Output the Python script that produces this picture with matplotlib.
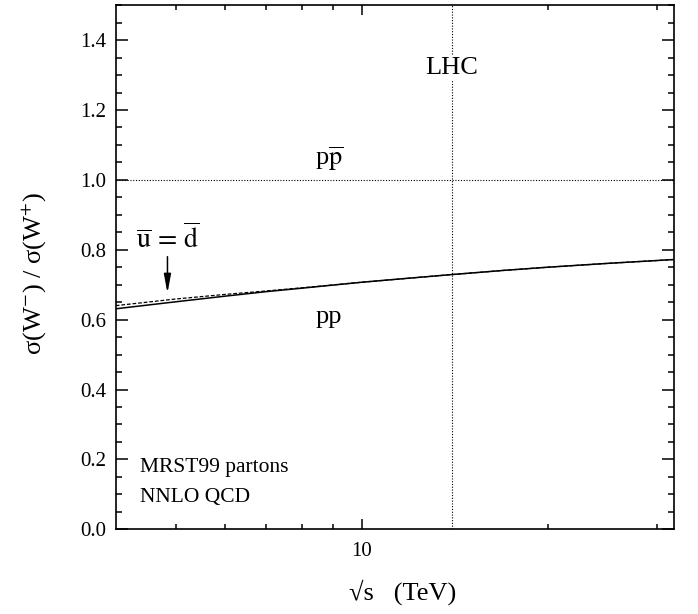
import numpy as np
import matplotlib
matplotlib.use("Agg")
import matplotlib.pyplot as plt

plt.rcParams['font.family'] = ['Liberation Serif', 'DejaVu Serif']
plt.rcParams['mathtext.fontset'] = 'stix'

# sqrt(s) in TeV and the W-/W+ ratio
sqrt_s = [4, 5, 6, 7, 8, 10, 12, 14, 17, 20, 25, 32]
ratio_pp = [0.631, 0.651, 0.667, 0.680, 0.690, 0.707, 0.719, 0.729, 0.741, 0.750, 0.761, 0.772]
ratio_ubar_dbar = [0.640, 0.659, 0.672, 0.682, 0.691, 0.707, 0.719, 0.729, 0.741, 0.750, 0.761, 0.772]
ratio_ppbar = 1.0
lhc_energy = 14

x_major = [10]
x_major_labels = ['10']
x_minor = [5, 6, 7, 8, 9, 20, 30]
y_major = [0.0, 0.2, 0.4, 0.6, 0.8, 1.0, 1.2, 1.4]

fig = plt.figure(figsize=(6.98, 6.14), dpi=100)
ax = fig.add_axes([0.1658, 0.138, 0.7998, 0.8536])

ax.plot(sqrt_s, ratio_pp, color='black', lw=1.1)
ax.plot(sqrt_s, ratio_ubar_dbar, color='black', lw=0.9, ls=(0, (3, 1.5)))
ax.axhline(ratio_ppbar, color='black', lw=0.8, ls=(0, (1, 1.5)))
ax.axvline(lhc_energy, color='black', lw=0.8, ls=(0, (1, 1.5)))

ax.set_xscale('log')
ax.set_xlim(4, 32)
ax.set_ylim(0, 1.5)
ax.set_xticks(x_major)
ax.set_xticklabels(x_major_labels)
ax.set_xticks(x_minor, minor=True)
ax.xaxis.set_minor_formatter(matplotlib.ticker.NullFormatter())
ax.set_yticks(y_major)
ax.set_yticklabels([f'{v:.1f}' for v in y_major])
ax.yaxis.set_minor_locator(matplotlib.ticker.MultipleLocator(0.05))

ax.tick_params(which='both', direction='in', top=True, right=True, labelsize=15, width=1.1)
ax.tick_params(axis='x', which='major', length=7.5, pad=9)
ax.tick_params(axis='x', which='minor', length=3.8)
ax.tick_params(axis='y', which='major', length=8.5, pad=7)
ax.tick_params(axis='y', which='minor', length=4.3)
for sp in ax.spines.values():
    sp.set_linewidth(1.2)

ax.text(lhc_energy, 1.32, 'LHC', fontsize=19, ha='center', va='center',
        bbox=dict(facecolor='white', edgecolor='none', pad=1))
ax.text(8.85, 1.043, r'p$\overline{\mathrm{p}}$', fontsize=19, ha='center', va='baseline')
ax.text(8.85, 0.59, 'pp', fontsize=19, ha='center', va='baseline')
ax.text(4.85, 0.804, r'$\overline{\mathrm{u}}\,=\,\overline{\mathrm{d}}$', fontsize=20,
        ha='center', va='baseline')
ax.annotate('', xy=(4.85, 0.676), xytext=(4.85, 0.780),
            arrowprops=dict(arrowstyle='-|>,head_length=0.8,head_width=0.15', color='black',
                            lw=1.1, mutation_scale=14, shrinkA=0, shrinkB=0))
ax.text(4.375, 0.165, 'MRST99 partons', fontsize=15.5, ha='left', va='baseline')
ax.text(4.375, 0.079, 'NNLO QCD', fontsize=15.5, ha='left', va='baseline')

fig.text(0.577, 0.036, '√s   (TeV)', fontsize=19, ha='center', va='center')
fig.text(0.048, 0.555, 'σ(W$^{-}$) / σ(W$^{+}$)', fontsize=19,
         rotation=90, ha='center', va='center')

fig.savefig('out.png', dpi=100)
